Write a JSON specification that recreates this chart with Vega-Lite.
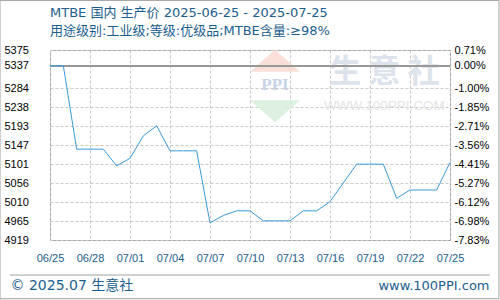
{
  "$schema": "https://vega.github.io/schema/vega-lite/v6.json",
  "width": 400,
  "height": 190,
  "autosize": "none",
  "padding": {"left": 50, "top": 50, "right": 50, "bottom": 60},
  "background": "white",
  "config": {
    "view": {"stroke": "#a0a0a0", "strokeWidth": 1},
    "font": "Liberation Sans"
  },
  "title": {
    "text": "MTBE 国内 生产价 2025-06-25 - 2025-07-25",
    "subtitle": "用途级别:工业级;等级:优级品;MTBE含量:≥98%",
    "anchor": "start",
    "frame": "group",
    "font": "DejaVu Sans, Noto Sans CJK SC",
    "subtitleFont": "DejaVu Sans, Noto Sans CJK SC",
    "fontSize": 13,
    "subtitleFontSize": 13,
    "fontWeight": "normal",
    "color": "#1b5e8e",
    "subtitleColor": "#1b5e8e",
    "offset": -42,
    "dy": -4,
    "subtitlePadding": 5
  },
  "data": {
    "values": [
      {"date": "2025-06-25", "price": 5337},
      {"date": "2025-06-26", "price": 5337},
      {"date": "2025-06-27", "price": 5137},
      {"date": "2025-06-28", "price": 5137},
      {"date": "2025-06-29", "price": 5137},
      {"date": "2025-06-30", "price": 5097},
      {"date": "2025-07-01", "price": 5115},
      {"date": "2025-07-02", "price": 5169},
      {"date": "2025-07-03", "price": 5193},
      {"date": "2025-07-04", "price": 5133},
      {"date": "2025-07-05", "price": 5133},
      {"date": "2025-07-06", "price": 5133},
      {"date": "2025-07-07", "price": 4960},
      {"date": "2025-07-08", "price": 4978},
      {"date": "2025-07-09", "price": 4989},
      {"date": "2025-07-10", "price": 4989},
      {"date": "2025-07-11", "price": 4965},
      {"date": "2025-07-12", "price": 4965},
      {"date": "2025-07-13", "price": 4965},
      {"date": "2025-07-14", "price": 4989},
      {"date": "2025-07-15", "price": 4989},
      {"date": "2025-07-16", "price": 5011},
      {"date": "2025-07-17", "price": 5056},
      {"date": "2025-07-18", "price": 5101},
      {"date": "2025-07-19", "price": 5101},
      {"date": "2025-07-20", "price": 5101},
      {"date": "2025-07-21", "price": 5019},
      {"date": "2025-07-22", "price": 5039},
      {"date": "2025-07-23", "price": 5039},
      {"date": "2025-07-24", "price": 5039},
      {"date": "2025-07-25", "price": 5105}
    ]
  },
  "resolve": {"scale": {"x": "independent", "y": "independent"}, "axis": {"x": "independent", "y": "independent"}},
  "layer": [
    {
      "data": {"values": [{}]},
      "mark": {"type": "point", "shape": "M-1,0.44L0,-0.44L1,0.44Z", "filled": true, "color": "#f9dcd4", "opacity": 0.9},
      "encoding": {
        "x": {"datum": 1752267600000, "type": "temporal", "scale": {"type": "utc", "domain": [1750809600000, 1753401600000]}, "axis": null},
        "y": {"datum": 5349, "type": "quantitative", "scale": {"domain": [4919, 5375]}, "axis": null},
        "size": {"value": 2500}
      }
    },
    {
      "data": {"values": [{}]},
      "mark": {"type": "point", "shape": "M-1,-0.44L1,-0.44L0,0.44Z", "filled": true, "color": "#d9f0da", "opacity": 0.9},
      "encoding": {
        "x": {"datum": 1752267600000, "type": "temporal", "scale": {"type": "utc", "domain": [1750809600000, 1753401600000]}, "axis": null},
        "y": {"datum": 5228, "type": "quantitative", "scale": {"domain": [4919, 5375]}, "axis": null},
        "size": {"value": 2500}
      }
    },
    {
      "data": {"values": [{}]},
      "mark": {"type": "text", "text": "PPI", "font": "Liberation Serif", "fontSize": 17, "fontWeight": "bold", "color": "#c9d3e8", "baseline": "middle", "align": "center"},
      "encoding": {
        "x": {"datum": 1752267600000, "type": "temporal", "scale": {"type": "utc", "domain": [1750809600000, 1753401600000]}, "axis": null},
        "y": {"datum": 5292, "type": "quantitative", "scale": {"domain": [4919, 5375]}, "axis": null}
      }
    },
    {
      "data": {"values": [{}]},
      "mark": {"type": "text", "text": "生 意 社", "font": "Noto Sans CJK SC", "fontSize": 32, "fontWeight": "bold", "color": "#dde3ec", "baseline": "middle", "align": "center"},
      "encoding": {
        "x": {"datum": 1752976800000, "type": "temporal", "scale": {"type": "utc", "domain": [1750809600000, 1753401600000]}, "axis": null},
        "y": {"datum": 5322, "type": "quantitative", "scale": {"domain": [4919, 5375]}, "axis": null}
      }
    },
    {
      "data": {"values": [{}]},
      "mark": {"type": "text", "text": "WWW.100PPI.COM", "font": "Liberation Sans", "fontSize": 13.5, "color": "#e4e4e4", "baseline": "middle", "align": "center"},
      "encoding": {
        "x": {"datum": 1752976800000, "type": "temporal", "scale": {"type": "utc", "domain": [1750809600000, 1753401600000]}, "axis": null},
        "y": {"datum": 5241, "type": "quantitative", "scale": {"domain": [4919, 5375]}, "axis": null}
      }
    },
    {
      "data": {"values": [{}]},
      "mark": {"type": "rule", "color": "#a0a0a0", "strokeWidth": 1, "clip": false},
      "encoding": {
        "x": {"datum": 1750550400000, "type": "temporal", "scale": {"type": "utc", "domain": [1750809600000, 1753401600000]}, "axis": null},
        "x2": {"datum": 1753660800000},
        "y": {"datum": 4835, "type": "quantitative", "scale": {"domain": [4919, 5375]}, "axis": null}
      }
    },
    {
      "data": {"values": [{}]},
      "mark": {"type": "rect", "fill": null, "fillOpacity": 0, "stroke": "#a0a0a0", "strokeWidth": 1, "clip": false},
      "encoding": {
        "x": {"datum": 1750485600000, "type": "temporal", "scale": {"type": "utc", "domain": [1750809600000, 1753401600000]}, "axis": null},
        "x2": {"datum": 1753719300000},
        "y": {"datum": 5494, "type": "quantitative", "scale": {"domain": [4919, 5375]}, "axis": null},
        "y2": {"datum": 4778}
      }
    },
    {
      "mark": {"type": "rule", "color": "#999999", "strokeWidth": 1},
      "encoding": {
        "y": {
          "datum": 5337,
          "type": "quantitative",
          "scale": {"domain": [4919, 5375]},
          "axis": {
            "orient": "right",
            "values": [4919, 4964.6, 5010.2, 5055.8, 5101.4, 5147, 5192.6, 5238.2, 5283.8, 5337, 5375],
            "labelExpr": "(datum.value < 5336 ? '-' : '') + format(abs(datum.value - 5337) / 5337, '.2%')",
            "ticks": false,
            "domain": false,
            "grid": false,
            "labelPadding": 4,
            "labelFont": "Liberation Sans",
            "labelFontSize": 11,
            "labelBaseline": "middle",
            "encode": {"labels": {"update": {"fill": {"signal": "datum.value == 5375 ? '#ff2f2f' : (datum.value == 5337 ? '#000000' : '#2db52d')"}}}},
            "title": "www.100PPI.com",
            "titleAngle": 0,
            "titleX": 39,
            "titleY": 235,
            "titleAlign": "right",
            "titleBaseline": "middle",
            "titleFont": "DejaVu Sans",
            "titleFontSize": 13,
            "titleFontWeight": "normal",
            "titleColor": "#1b5e8e"
          }
        }
      }
    },
    {
      "mark": {"type": "line", "color": "#3a9ad9", "strokeWidth": 1},
      "encoding": {
        "x": {
          "field": "date",
          "type": "temporal",
          "scale": {"type": "utc", "domain": [1750809600000, 1753401600000]},
          "axis": {
            "values": [1750809600000, 1751068800000, 1751328000000, 1751587200000, 1751846400000, 1752105600000, 1752364800000, 1752624000000, 1752883200000, 1753142400000, 1753401600000],
            "labelExpr": "utcFormat(datum.value, '%m/%d')",
            "labelOverlap": false,
            "ticks": false,
            "domain": false,
            "grid": true,
            "gridColor": "#c8c8c8",
            "gridDash": [3, 2],
            "labelPadding": 12,
            "labelFont": "Liberation Sans",
            "labelFontSize": 11,
            "labelColor": "#1b5e8e",
            "labelFlush": false,
            "title": "© 2025.07 生意社",
            "titleAnchor": "start",
            "titleAlign": "left",
            "titleX": -40,
            "titleY": 45,
            "titleBaseline": "middle",
            "titleFont": "DejaVu Sans, Noto Sans CJK SC",
            "titleFontSize": 14,
            "titleFontWeight": "normal",
            "titleColor": "#1b5e8e"
          }
        },
        "y": {
          "field": "price",
          "type": "quantitative",
          "scale": {"domain": [4919, 5375]},
          "axis": {
            "values": [4919, 4964.6, 5010.2, 5055.8, 5101.4, 5147, 5192.6, 5238.2, 5283.8, 5337, 5375],
            "format": ".0f",
            "ticks": false,
            "domain": false,
            "grid": true,
            "gridColor": "#c8c8c8",
            "gridDash": [3, 2],
            "labelAlign": "left",
            "labelPadding": 46,
            "labelFont": "Liberation Sans",
            "labelFontSize": 11,
            "labelBaseline": "middle",
            "encode": {"labels": {"update": {"fill": {"signal": "datum.value == 5375 ? '#ff2f2f' : (datum.value == 5337 ? '#000000' : '#2db52d')"}}}},
            "title": null
          }
        }
      }
    }
  ]
}
